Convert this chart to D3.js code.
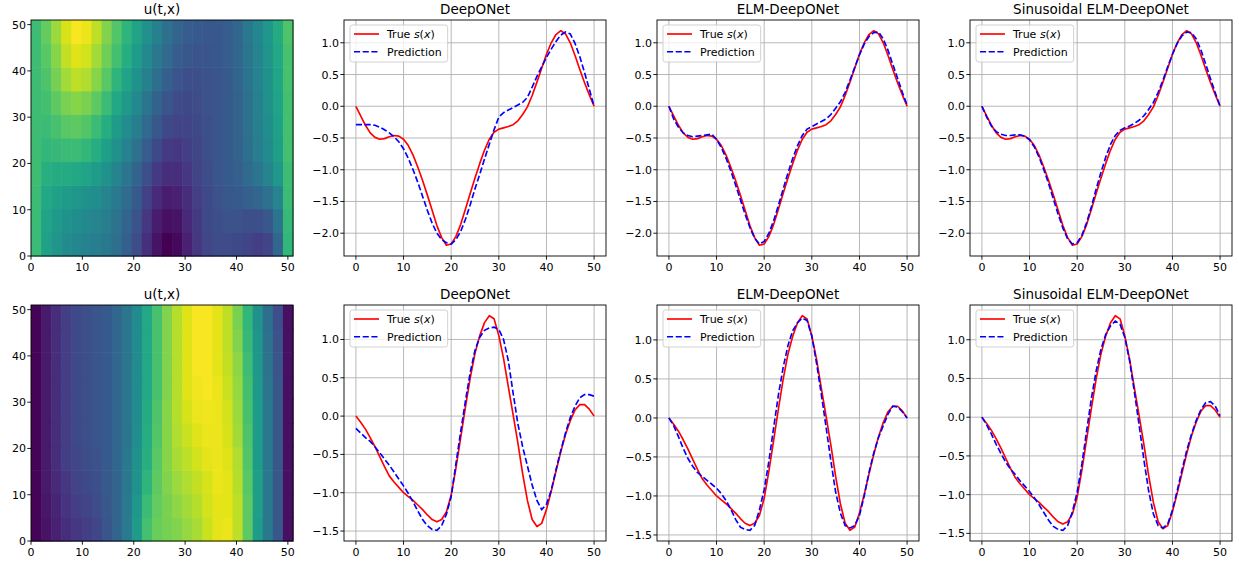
<!DOCTYPE html>
<html>
  <head>
    <meta charset="utf-8">
    <title>DeepONet comparison</title>
    <script src="https://d3js.org/d3.v7.min.js"></script>
    <style>
      body { margin: 0; background: #fff; }
      svg { font-family: "DejaVu Sans", sans-serif; }
      .tick-label { font-size: 11px; fill: #000; }
      .title { font-size: 13.5px; fill: #000; }
      .legend-text { font-size: 11px; fill: #000; }
      .grid { stroke: #b0b0b0; stroke-width: 0.9; }
    </style>
  </head>
  <body>
    <script>
      // sample points along x
      const xs = d3.range(51);
      // top row: true solution and the three predictions
      const trueTop = [0, -0.15, -0.3, -0.42, -0.49, -0.52, -0.51, -0.48, -0.46, -0.47,
        -0.52, -0.62, -0.77, -0.96, -1.17, -1.4, -1.64, -1.88, -2.07, -2.19,
        -2.17, -2.05, -1.86, -1.62, -1.37, -1.13, -0.9, -0.69, -0.52, -0.41,
        -0.36, -0.34, -0.32, -0.29, -0.23, -0.13, -0.01, 0.17, 0.38, 0.6,
        0.82, 1.0, 1.13, 1.19, 1.14, 1.0, 0.8, 0.58, 0.37, 0.18, 0];
      const deepTop = [-0.29, -0.29, -0.29, -0.29, -0.3, -0.33, -0.37, -0.42, -0.48, -0.56,
        -0.67, -0.82, -1.0, -1.2, -1.42, -1.64, -1.84, -2.0, -2.1, -2.15,
        -2.17, -2.1, -1.97, -1.78, -1.55, -1.3, -1.07, -0.83, -0.6, -0.37,
        -0.17, -0.1, -0.06, -0.02, 0.02, 0.06, 0.14, 0.3, 0.47, 0.62,
        0.77, 0.9, 1.02, 1.12, 1.17, 1.14, 0.99, 0.78, 0.53, 0.27, 0.0];
      const elmTop = [0, -0.2, -0.33, -0.42, -0.46, -0.48, -0.47, -0.46, -0.45, -0.44,
        -0.52, -0.65, -0.82, -1.02, -1.24, -1.47, -1.7, -1.91, -2.08, -2.17,
        -2.13, -2.0, -1.8, -1.56, -1.3, -1.05, -0.82, -0.62, -0.46, -0.36,
        -0.32, -0.28, -0.24, -0.2, -0.13, -0.03, 0.07, 0.22, 0.41, 0.61,
        0.81, 0.98, 1.1, 1.16, 1.17, 1.06, 0.88, 0.66, 0.44, 0.22, 0.02];
      const sinTop = [0, -0.17, -0.31, -0.4, -0.44, -0.46, -0.46, -0.45, -0.45, -0.47,
        -0.53, -0.64, -0.8, -1.0, -1.22, -1.46, -1.7, -1.92, -2.09, -2.17,
        -2.15, -2.03, -1.83, -1.58, -1.3, -1.04, -0.8, -0.6, -0.46, -0.38,
        -0.34, -0.31, -0.27, -0.22, -0.15, -0.05, 0.06, 0.22, 0.41, 0.62,
        0.82, 0.99, 1.11, 1.17, 1.16, 1.06, 0.88, 0.66, 0.43, 0.21, 0.0];
      // bottom row
      const trueBottom = [0, -0.08, -0.17, -0.28, -0.4, -0.53, -0.66, -0.78, -0.86, -0.93,
        -1.0, -1.05, -1.1, -1.16, -1.22, -1.29, -1.35, -1.38, -1.35, -1.25,
        -1.03, -0.68, -0.28, 0.12, 0.5, 0.82, 1.05, 1.22, 1.31, 1.27,
        1.05, 0.75, 0.38, 0.02, -0.35, -0.75, -1.1, -1.35, -1.44, -1.4,
        -1.22, -0.98, -0.72, -0.47, -0.24, -0.06, 0.08, 0.15, 0.15, 0.09, 0.0];
      const deepBottom = [-0.16, -0.22, -0.28, -0.33, -0.4, -0.48, -0.56, -0.64, -0.73, -0.82,
        -0.91, -1.01, -1.12, -1.24, -1.35, -1.43, -1.48, -1.49, -1.43, -1.28,
        -1.05, -0.62, -0.2, 0.2, 0.57, 0.86, 1.03, 1.12, 1.15, 1.16,
        1.13, 1.0, 0.72, 0.3, -0.1, -0.4, -0.65, -0.9, -1.1, -1.22,
        -1.15, -0.97, -0.7, -0.45, -0.22, -0.02, 0.13, 0.24, 0.28, 0.28, 0.26];
      const elmBottom = [0, -0.1, -0.24, -0.39, -0.52, -0.62, -0.7, -0.75, -0.8, -0.85,
        -0.9, -0.97, -1.06, -1.17, -1.3, -1.4, -1.43, -1.44, -1.38, -1.18,
        -0.92, -0.55, -0.12, 0.3, 0.65, 0.93, 1.12, 1.22, 1.28, 1.25,
        1.05, 0.7, 0.3, -0.12, -0.55, -0.95, -1.22, -1.38, -1.41, -1.38,
        -1.25, -1.0, -0.7, -0.45, -0.25, -0.1, 0.05, 0.15, 0.14, 0.08, 0.0];
      const sinBottom = [0, -0.1, -0.22, -0.35, -0.47, -0.58, -0.67, -0.74, -0.82, -0.89,
        -0.96, -1.04, -1.13, -1.23, -1.33, -1.41, -1.45, -1.46, -1.4, -1.22,
        -0.97, -0.6, -0.17, 0.25, 0.6, 0.88, 1.07, 1.18, 1.24, 1.2,
        1.03, 0.73, 0.33, -0.1, -0.55, -0.95, -1.25, -1.4, -1.43, -1.38,
        -1.2, -0.95, -0.68, -0.43, -0.22, -0.04, 0.1, 0.19, 0.2, 0.14, 0.02];
      // u(t,x), rows from t=0 upward, 26 bands across x
      const heatTop = [
        [0.68, 0.57, 0.52, 0.48, 0.46, 0.44, 0.42, 0.40, 0.36, 0.30, 0.23, 0.14, 0.05, 0.00, 0.02, 0.09, 0.16, 0.21, 0.23, 0.23, 0.22, 0.20, 0.18, 0.20, 0.33, 0.66],
        [0.68, 0.58, 0.54, 0.51, 0.49, 0.47, 0.45, 0.42, 0.38, 0.32, 0.25, 0.16, 0.08, 0.04, 0.05, 0.11, 0.17, 0.22, 0.24, 0.25, 0.25, 0.24, 0.24, 0.27, 0.38, 0.67],
        [0.68, 0.60, 0.57, 0.55, 0.53, 0.51, 0.49, 0.45, 0.41, 0.35, 0.28, 0.19, 0.12, 0.08, 0.09, 0.13, 0.18, 0.22, 0.25, 0.27, 0.28, 0.30, 0.33, 0.37, 0.45, 0.68],
        [0.69, 0.63, 0.61, 0.61, 0.60, 0.58, 0.55, 0.50, 0.45, 0.39, 0.32, 0.24, 0.17, 0.13, 0.13, 0.16, 0.20, 0.23, 0.26, 0.28, 0.30, 0.34, 0.39, 0.45, 0.53, 0.69],
        [0.69, 0.66, 0.67, 0.68, 0.68, 0.66, 0.62, 0.56, 0.50, 0.44, 0.37, 0.29, 0.22, 0.17, 0.16, 0.18, 0.21, 0.24, 0.26, 0.28, 0.31, 0.36, 0.42, 0.48, 0.56, 0.70],
        [0.69, 0.68, 0.71, 0.74, 0.75, 0.73, 0.68, 0.62, 0.55, 0.49, 0.42, 0.34, 0.27, 0.22, 0.20, 0.20, 0.22, 0.24, 0.26, 0.28, 0.31, 0.37, 0.43, 0.49, 0.57, 0.70],
        [0.69, 0.70, 0.75, 0.80, 0.82, 0.80, 0.75, 0.68, 0.60, 0.54, 0.47, 0.39, 0.31, 0.26, 0.23, 0.22, 0.23, 0.25, 0.26, 0.28, 0.31, 0.37, 0.43, 0.50, 0.58, 0.70],
        [0.69, 0.72, 0.79, 0.86, 0.90, 0.88, 0.82, 0.74, 0.65, 0.58, 0.51, 0.43, 0.36, 0.30, 0.26, 0.24, 0.24, 0.25, 0.26, 0.28, 0.32, 0.38, 0.44, 0.51, 0.59, 0.71],
        [0.69, 0.74, 0.82, 0.91, 0.95, 0.93, 0.86, 0.78, 0.70, 0.62, 0.55, 0.47, 0.40, 0.34, 0.29, 0.27, 0.26, 0.26, 0.27, 0.29, 0.33, 0.39, 0.45, 0.52, 0.60, 0.71],
        [0.69, 0.76, 0.85, 0.94, 0.99, 0.97, 0.90, 0.81, 0.73, 0.65, 0.58, 0.50, 0.43, 0.37, 0.32, 0.29, 0.28, 0.27, 0.27, 0.29, 0.33, 0.40, 0.46, 0.53, 0.61, 0.72]
      ];
      const heatBottom = [
        [0.01, 0.05, 0.09, 0.13, 0.16, 0.18, 0.21, 0.26, 0.32, 0.41, 0.55, 0.70, 0.77, 0.79, 0.81, 0.84, 0.87, 0.92, 0.96, 0.97, 0.90, 0.75, 0.55, 0.40, 0.27, 0.04],
        [0.01, 0.06, 0.10, 0.15, 0.18, 0.20, 0.23, 0.27, 0.32, 0.41, 0.53, 0.68, 0.76, 0.80, 0.83, 0.86, 0.89, 0.93, 0.96, 0.96, 0.90, 0.75, 0.56, 0.40, 0.27, 0.04],
        [0.01, 0.07, 0.12, 0.16, 0.20, 0.22, 0.24, 0.28, 0.32, 0.40, 0.51, 0.65, 0.75, 0.81, 0.85, 0.88, 0.91, 0.94, 0.97, 0.96, 0.89, 0.74, 0.56, 0.40, 0.27, 0.04],
        [0.01, 0.07, 0.13, 0.18, 0.21, 0.23, 0.25, 0.28, 0.33, 0.40, 0.50, 0.63, 0.74, 0.82, 0.87, 0.90, 0.93, 0.96, 0.97, 0.95, 0.88, 0.73, 0.55, 0.40, 0.27, 0.04],
        [0.01, 0.07, 0.13, 0.18, 0.22, 0.24, 0.26, 0.28, 0.33, 0.39, 0.49, 0.62, 0.73, 0.82, 0.88, 0.92, 0.95, 0.97, 0.97, 0.94, 0.86, 0.72, 0.55, 0.40, 0.27, 0.04],
        [0.01, 0.07, 0.13, 0.18, 0.22, 0.24, 0.26, 0.28, 0.33, 0.39, 0.48, 0.61, 0.72, 0.82, 0.89, 0.94, 0.97, 0.98, 0.97, 0.93, 0.85, 0.71, 0.55, 0.40, 0.27, 0.04],
        [0.01, 0.07, 0.13, 0.18, 0.22, 0.24, 0.26, 0.28, 0.33, 0.39, 0.48, 0.60, 0.71, 0.81, 0.89, 0.95, 0.98, 0.99, 0.97, 0.92, 0.84, 0.70, 0.54, 0.39, 0.27, 0.04],
        [0.01, 0.07, 0.13, 0.18, 0.22, 0.24, 0.26, 0.28, 0.33, 0.39, 0.48, 0.60, 0.71, 0.81, 0.89, 0.95, 0.99, 0.99, 0.96, 0.91, 0.83, 0.69, 0.53, 0.38, 0.26, 0.04],
        [0.01, 0.07, 0.13, 0.18, 0.22, 0.24, 0.26, 0.28, 0.33, 0.39, 0.48, 0.60, 0.71, 0.81, 0.89, 0.95, 0.99, 0.99, 0.96, 0.90, 0.81, 0.67, 0.52, 0.37, 0.25, 0.04],
        [0.01, 0.07, 0.13, 0.18, 0.22, 0.24, 0.26, 0.28, 0.33, 0.39, 0.48, 0.60, 0.71, 0.81, 0.89, 0.95, 0.99, 0.99, 0.96, 0.90, 0.80, 0.66, 0.50, 0.36, 0.24, 0.04]
      ];
      // labels and ticks
      const heatTitle = "u(t,x)";
      const modelTitles = ["DeepONet", "ELM-DeepONet", "Sinusoidal ELM-DeepONet"];
      const xTicks = [0, 10, 20, 30, 40, 50];
      const heatTicks = [0, 10, 20, 30, 40, 50];
      const yTicksTop = [-2.0, -1.5, -1.0, -0.5, 0.0, 0.5, 1.0];
      const yTicksBottom = [-1.5, -1.0, -0.5, 0.0, 0.5, 1.0];

      const rows = [
        { heat: heatTop, truth: trueTop, preds: [deepTop, elmTop, sinTop], yTicks: yTicksTop },
        { heat: heatBottom, truth: trueBottom, preds: [deepBottom, elmBottom, sinBottom], yTicks: yTicksBottom }
      ];

      // layout
      const colLeft = [31, 344, 657, 970];
      const rowTop = [20, 305];
      const W = 262, H = 236;
      const tickLen = 3.7;
      const fmt = d3.format(".1f");
      const dash = "6.1,2.6";

      const svg = d3.select("body").append("svg")
        .attr("width", 1239)
        .attr("height", 567);

      const color = d3.scaleSequential(d3.interpolateViridis).domain([0, 1]);

      function drawFrame(g, x, y, xt, yt, yFmt) {
        xt.forEach(function(v) {
          g.append("line")
            .attr("x1", x(v)).attr("x2", x(v))
            .attr("y1", H).attr("y2", H + tickLen)
            .attr("stroke", "#000").attr("stroke-width", 0.9);
          g.append("text")
            .attr("class", "tick-label")
            .attr("x", x(v)).attr("y", H + 14.5)
            .attr("text-anchor", "middle")
            .text(v);
        });
        yt.forEach(function(v) {
          g.append("line")
            .attr("x1", -tickLen).attr("x2", 0)
            .attr("y1", y(v)).attr("y2", y(v))
            .attr("stroke", "#000").attr("stroke-width", 0.9);
          g.append("text")
            .attr("class", "tick-label")
            .attr("x", -5).attr("y", y(v) + 4)
            .attr("text-anchor", "end")
            .text(yFmt(v));
        });
        g.append("rect")
          .attr("width", W).attr("height", H)
          .attr("fill", "none")
          .attr("stroke", "#000")
          .attr("stroke-width", 0.9);
      }

      function title(g, txt) {
        g.append("text")
          .attr("class", "title")
          .attr("x", W / 2).attr("y", -6)
          .attr("text-anchor", "middle")
          .text(txt);
      }

      rows.forEach(function(row, r) {
        // heatmap panel
        let g = svg.append("g").attr("transform", "translate(" + colLeft[0] + "," + rowTop[r] + ")");
        let hx = d3.scaleLinear().domain([0, 51]).range([0, W]);
        let hy = d3.scaleLinear().domain([0, 51]).range([H, 0]);
        let bandX = d3.scaleBand().domain(d3.range(row.heat[0].length)).range([hx(0), hx(51)]);
        let bandY = d3.scaleBand().domain(d3.range(row.heat.length)).range([hy(0), hy(51)]);
        row.heat.forEach(function(vals, i) {
          g.selectAll(null)
            .data(vals)
            .enter().append("rect")
              .attr("x", function(d, j) { return bandX(j); })
              .attr("y", bandY(i))
              .attr("width", bandX.bandwidth() + 0.6)
              .attr("height", bandY.bandwidth() + 0.6)
              .attr("fill", function(d) { return color(d); });
        });
        drawFrame(g, hx, hy, heatTicks, heatTicks, function(v) { return v; });
        title(g, heatTitle);

        // line panels
        row.preds.forEach(function(pred, k) {
          let g = svg.append("g").attr("transform", "translate(" + colLeft[k + 1] + "," + rowTop[r] + ")");
          let x = d3.scaleLinear().domain([-2.5, 52.5]).range([0, W]);
          let ext = d3.extent(row.truth.concat(pred));
          let pad = (ext[1] - ext[0]) * 0.05;
          let y = d3.scaleLinear().domain([ext[0] - pad, ext[1] + pad]).range([H, 0]);

          xTicks.forEach(function(v) {
            g.append("line").attr("class", "grid")
              .attr("x1", x(v)).attr("x2", x(v)).attr("y1", 0).attr("y2", H);
          });
          row.yTicks.forEach(function(v) {
            g.append("line").attr("class", "grid")
              .attr("x1", 0).attr("x2", W).attr("y1", y(v)).attr("y2", y(v));
          });

          let line = d3.line()
            .x(function(d, i) { return x(xs[i]); })
            .y(function(d) { return y(d); });
          g.append("path")
            .attr("d", line(row.truth))
            .attr("fill", "none")
            .attr("stroke", "#ff0000")
            .attr("stroke-width", 1.65)
            .attr("stroke-linejoin", "round");
          g.append("path")
            .attr("d", line(pred))
            .attr("fill", "none")
            .attr("stroke", "#0000ff")
            .attr("stroke-width", 1.65)
            .attr("stroke-dasharray", dash);

          drawFrame(g, x, y, xTicks, row.yTicks, fmt);
          title(g, modelTitles[k]);

          // legend
          let lg = g.append("g").attr("transform", "translate(6,5)");
          let box = lg.append("rect")
            .attr("rx", 2.5).attr("ry", 2.5)
            .attr("height", 37)
            .attr("fill", "#fff").attr("fill-opacity", 0.8)
            .attr("stroke", "#cccccc").attr("stroke-width", 0.9);
          lg.append("line")
            .attr("x1", 4).attr("x2", 29).attr("y1", 9).attr("y2", 9)
            .attr("stroke", "#ff0000").attr("stroke-width", 1.65);
          lg.append("line")
            .attr("x1", 4).attr("x2", 29).attr("y1", 26.7).attr("y2", 26.7)
            .attr("stroke", "#0000ff").attr("stroke-width", 1.65)
            .attr("stroke-dasharray", dash);
          let t1 = lg.append("text").attr("class", "legend-text").attr("x", 37).attr("y", 13);
          t1.append("tspan").text("True ");
          t1.append("tspan").attr("font-style", "italic").text("s");
          t1.append("tspan").text("(");
          t1.append("tspan").attr("font-style", "italic").text("x");
          t1.append("tspan").text(")");
          let t2 = lg.append("text").attr("class", "legend-text").attr("x", 37).attr("y", 30.7)
            .text("Prediction");
          let tw = Math.max(t1.node().getComputedTextLength(), t2.node().getComputedTextLength());
          box.attr("width", 37 + tw + 6);
        });
      });
    </script>
  </body>
</html>
